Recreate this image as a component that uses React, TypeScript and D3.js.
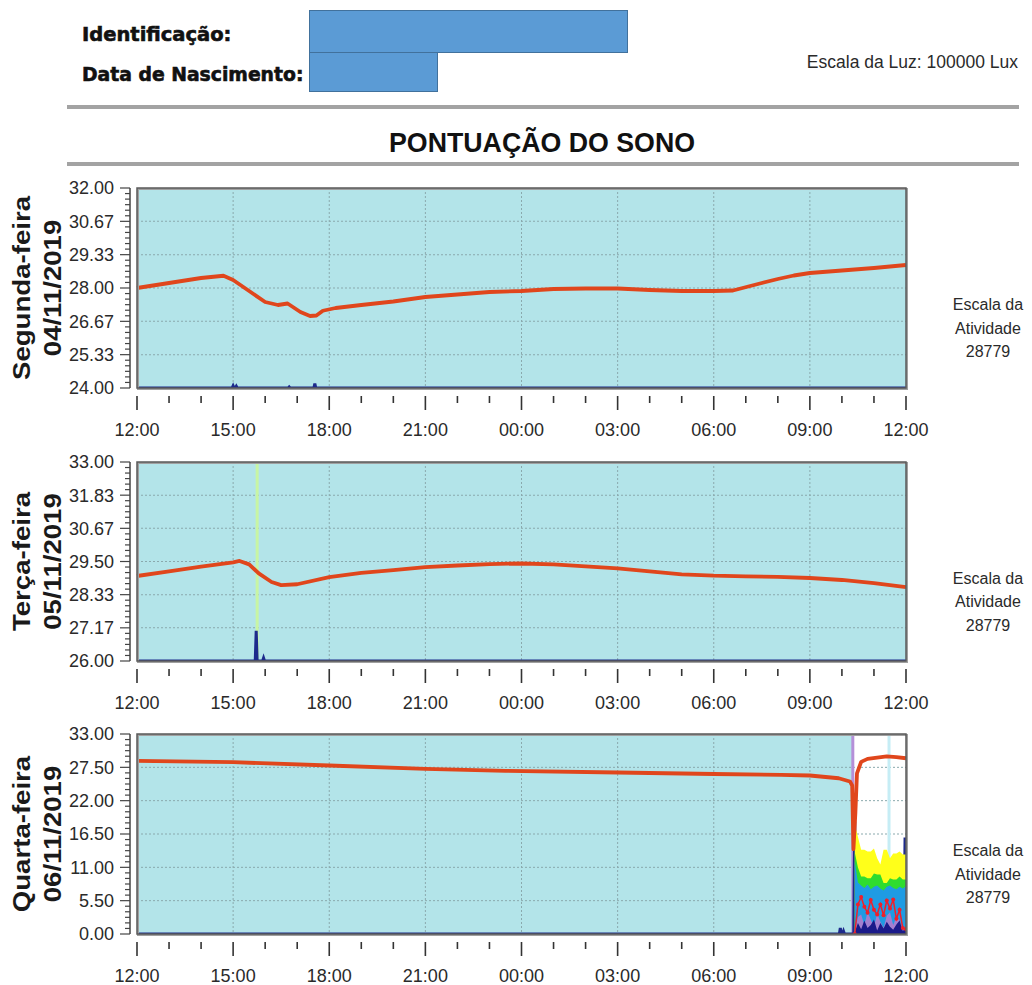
import React from "react";
import * as d3 from "d3";

// ---------- shared axis data ----------
const X_MAJOR_HOURS = [0, 3, 6, 9, 12, 15, 18, 21, 24];
const X_TICK_LABELS = ["12:00", "15:00", "18:00", "21:00", "00:00", "03:00", "06:00", "09:00", "12:00"];
const ACTIVITY_SCALE = 28779;
const LIGHT_SCALE = 100000;

// ---------- Day 1 ----------
const day1Label = ["Segunda-feira", "04/11/2019"];
const day1YDomain = [24, 32];
const day1YTicks = ["24.00", "25.33", "26.67", "28.00", "29.33", "30.67", "32.00"];
const day1Temp: [number, number][] = [
  [0, 28.0], [1, 28.2], [2, 28.4], [2.7, 28.49], [3, 28.32], [3.5, 27.88], [4, 27.44],
  [4.4, 27.32], [4.7, 27.38], [5.1, 27.04], [5.4, 26.88], [5.6, 26.9], [5.8, 27.09],
  [6.2, 27.2], [7, 27.32], [8, 27.46], [9, 27.64], [10, 27.74], [11, 27.84], [12, 27.88],
  [13, 27.96], [14, 27.98], [15, 27.98], [16, 27.92], [17, 27.88], [18, 27.88], [18.6, 27.9],
  [19.5, 28.2], [20, 28.36], [20.5, 28.5], [21, 28.6], [22, 28.7], [23, 28.8], [24, 28.92],
];
const day1Activity: [number, number][] = [[3.0, 300], [3.1, 250], [4.75, 150], [5.55, 650]];

// ---------- Day 2 ----------
const day2Label = ["Terça-feira", "05/11/2019"];
const day2YDomain = [26, 33];
const day2YTicks = ["26.00", "27.17", "28.33", "29.50", "30.67", "31.83", "33.00"];
const day2Temp: [number, number][] = [
  [0, 28.99], [1, 29.15], [2, 29.32], [3, 29.47], [3.2, 29.52], [3.5, 29.4], [3.8, 29.08],
  [4.2, 28.78], [4.5, 28.67], [5, 28.7], [6, 28.95], [7, 29.1], [8, 29.2], [9, 29.3],
  [10, 29.36], [11, 29.41], [12, 29.43], [13, 29.4], [14, 29.33], [15, 29.26], [16, 29.15],
  [17, 29.05], [18, 29.0], [19, 28.98], [20, 28.96], [21, 28.92], [22, 28.85], [23, 28.74], [24, 28.6],
];
const day2Activity: [number, number][] = [[3.72, 4350], [3.95, 430]];
const day2Markers = [{ hour: 3.75, color: "#c8f5a4" }];

// ---------- Day 3 ----------
const day3Label = ["Quarta-feira", "06/11/2019"];
const day3YDomain = [0, 33];
const day3YTicks = ["0.00", "5.50", "11.00", "16.50", "22.00", "27.50", "33.00"];
const day3Temp: [number, number][] = [
  [0, 28.57], [3, 28.35], [6, 27.8], [9, 27.25], [11.5, 26.93], [15, 26.65], [18, 26.4],
  [20.1, 26.27], [21, 26.15], [21.9, 25.7], [22.25, 25.17], [22.32, 24.5], [22.36, 14.0],
  [22.42, 20.0], [22.47, 26.5], [22.6, 28.4], [22.8, 28.9], [23.1, 29.1], [23.4, 29.3],
  [23.7, 29.2], [24, 29.0],
];
const day3Activity: [number, number][] = [[21.95, 850], [22.05, 400], [22.4, 16200], [23.97, 13900]];
const day3Markers = [{ hour: 22.34, color: "#b58fd8" }, { hour: 23.47, color: "#c6edf5" }];
const day3OffWrist = [22.34, 24];

// light sensor channels (lux) during the off-wrist period of day 3
const lightHours = [22.4, 22.5, 22.6, 22.7, 22.8, 22.9, 23.0, 23.1, 23.2, 23.3, 23.4, 23.5, 23.6, 23.7, 23.8, 23.9, 24.0];
const lightYellow = [55150, 48500, 42100, 42100, 41200, 41200, 42700, 37900, 34800, 42100, 42100, 37900, 40300, 40300, 41200, 39700, 39700];
const lightGreen = [40900, 33300, 28800, 28800, 27900, 27900, 30300, 29700, 29700, 25500, 25500, 27900, 27300, 27300, 28800, 27300, 27300];
const lightBlue = [36400, 25800, 24200, 23000, 24800, 22400, 23600, 24200, 22700, 21800, 23600, 24200, 23000, 22400, 23600, 22700, 23900];
const lightRed = [0, 14800, 18500, 13600, 10600, 17000, 12100, 9700, 14800, 9400, 16700, 12700, 17300, 7600, 12100, 3000, 2400];
const lightPurple = [1500, 8500, 9700, 4500, 10900, 7300, 3600, 10300, 6100, 3000, 9100, 10900, 4500, 8500, 6700, 2400, 3000];
const lightNavy = [900, 5500, 2400, 6700, 3000, 4500, 7300, 1800, 5500, 2700, 6100, 3600, 2100, 4800, 6700, 1500, 3000];

// ---------- style constants ----------
const PLOT_LEFT = 137;
const PLOT_RIGHT = 906;
const BG = "#b3e4e9";
const ORANGE = "#e0461c";
const NAVY = "#1d2a8c";
const FONT = "'Liberation Sans', Arial, sans-serif";

type PanelProps = {
  top: number;
  bottom: number;
  label: string[];
  domain: number[];
  yTicks: string[];
  temp: [number, number][];
  activity: [number, number][];
  markers?: { hour: number; color: string }[];
  offWrist?: number[];
  withLight?: boolean;
};

function Panel({ top, bottom, label, domain, yTicks, temp, activity, markers = [], offWrist, withLight }: PanelProps) {
  const x = d3.scaleLinear().domain([0, 24]).range([PLOT_LEFT, PLOT_RIGHT]);
  const y = d3.scaleLinear().domain(domain).range([bottom, top]);
  const ya = d3.scaleLinear().domain([0, ACTIVITY_SCALE]).range([bottom, top]);
  const yl = d3.scaleLinear().domain([0, LIGHT_SCALE]).range([bottom, top]);
  const cy = (top + bottom) / 2;

  const tempLine = d3.line<[number, number]>().x((d) => x(d[0])).y((d) => y(d[1]))(temp) || "";

  const actPts: [number, number][] = [[0, 0]];
  activity.forEach(([h, v]) => {
    actPts.push([h - 0.03, 0], [h, v], [h + 0.03, 0]);
  });
  actPts.push([24, 0]);
  const actLine = d3.line<[number, number]>().x((d) => x(d[0])).y((d) => ya(d[1]))(actPts) || "";

  const area = (vals: number[]) =>
    d3.area<number>().x((_, i) => x(lightHours[i])).y0(bottom).y1((d) => yl(d))(vals) || "";
  const redLine = d3.line<number>().x((_, i) => x(lightHours[i])).y((d) => yl(d))(lightRed) || "";

  const minorY = d3.range(0, 37).map((i) => top + (i * (bottom - top)) / 36);
  const minorX = d3.range(0, 25);
  const axTop = bottom + 8;

  return (
    <g>
      {/* plot background */}
      <rect x={PLOT_LEFT} y={top} width={PLOT_RIGHT - PLOT_LEFT} height={bottom - top} fill={BG} />
      {offWrist && (
        <rect x={x(offWrist[0])} y={top} width={x(offWrist[1]) - x(offWrist[0])} height={bottom - top} fill="#ffffff" />
      )}
      {/* grid */}
      {yTicks.slice(1, -1).map((t) => (
        <line key={"gy" + t} x1={PLOT_LEFT} x2={PLOT_RIGHT} y1={y(+t)} y2={y(+t)} stroke="#8aa9ad" strokeWidth={1} strokeDasharray="2,2" />
      ))}
      {X_MAJOR_HOURS.slice(1, -1).map((h) => (
        <line key={"gx" + h} x1={x(h)} x2={x(h)} y1={top} y2={bottom} stroke="#8aa9ad" strokeWidth={1} strokeDasharray="2,2" />
      ))}
      {/* event markers */}
      {markers.map((m, i) => (
        <line key={"m" + i} x1={x(m.hour)} x2={x(m.hour)} y1={top} y2={bottom} stroke={m.color} strokeWidth={3} />
      ))}
      {/* activity */}
      <path d={actLine} fill="none" stroke={NAVY} strokeWidth={3} />
      {/* light channels */}
      {withLight && (
        <g>
          <path d={area(lightYellow)} fill="#ffff1a" />
          <path d={area(lightGreen)} fill="#2fdc2f" />
          <path d={area(lightBlue)} fill="#1f9be3" />
          <path d={area(lightPurple)} fill="#a27fd0" />
          <path d={area(lightNavy)} fill="#1a1a8a" />
          <path d={redLine} fill="none" stroke="#f0202a" strokeWidth={1.5} />
          {lightRed.map((v, i) => (
            <circle key={"r" + i} cx={x(lightHours[i])} cy={yl(v)} r={2} fill="#f0202a" />
          ))}
        </g>
      )}
      {/* temperature */}
      <path d={tempLine} fill="none" stroke={ORANGE} strokeWidth={3.8} strokeLinejoin="round" />
      {/* frame */}
      <rect x={PLOT_LEFT + 1} y={top + 1} width={PLOT_RIGHT - PLOT_LEFT} height={bottom - top} fill="none" stroke="#a0a0a0" strokeWidth={2} />
      <rect x={PLOT_LEFT} y={top} width={PLOT_RIGHT - PLOT_LEFT} height={bottom - top} fill="none" stroke="#5a5a5a" strokeWidth={1.5} />

      {/* y axis */}
      <line x1={130} x2={130} y1={top} y2={bottom} stroke="#444" strokeWidth={1.5} />
      {minorY.map((yy, i) => (
        <line key={"my" + i} x1={i % 6 === 0 ? 120 : 125} x2={130} y1={yy} y2={yy} stroke="#444" strokeWidth={1.2} />
      ))}
      {yTicks.map((t) => (
        <text key={"yt" + t} x={114} y={y(+t)} dy="0.36em" textAnchor="end" fontSize={18} fontFamily={FONT} fill="#2a2a2a">
          {t}
        </text>
      ))}

      {/* x axis */}
      {minorX.map((h) => (
        <line key={"mx" + h} x1={x(h)} x2={x(h)} y1={axTop} y2={axTop + (h % 3 === 0 ? 14 : 7)} stroke="#333" strokeWidth={1.6} />
      ))}
      {X_MAJOR_HOURS.map((h, i) => (
        <text key={"xt" + i} x={x(h)} y={bottom + 48} textAnchor="middle" fontSize={18} fontFamily={FONT} fill="#2a2a2a">
          {X_TICK_LABELS[i]}
        </text>
      ))}

      {/* rotated day label */}
      <text transform={`translate(30, ${cy}) rotate(-90) scale(1.15,1)`} textAnchor="middle" fontSize={24} fontWeight="bold" fontFamily={FONT} fill="#1a1a1a">
        {label[0]}
      </text>
      <text transform={`translate(61, ${cy}) rotate(-90) scale(1.15,1)`} textAnchor="middle" fontSize={24} fontWeight="bold" fontFamily={FONT} fill="#1a1a1a">
        {label[1]}
      </text>

      {/* activity scale label */}
      {["Escala da", "Atividade", String(ACTIVITY_SCALE)].map((s, i) => (
        <text key={"es" + i} x={988} y={cy + 22 + i * 23.5} textAnchor="middle" fontSize={16} fontFamily={FONT} fill="#2a2a2a">
          {s}
        </text>
      ))}
    </g>
  );
}

export default function App() {
  return (
    <svg width={1032} height={985} style={{ position: "absolute", left: 0, top: 0, background: "#ffffff" }}>
      <rect x={0} y={0} width={1032} height={985} fill="#ffffff" />
      {/* header */}
      <text x={82} y={41} fontSize={19.5} fontWeight="bold" fontFamily="'DejaVu Sans', sans-serif" fill="#111" stroke="#111" strokeWidth={0.6}>
        Identificação:
      </text>
      <text x={82} y={81} fontSize={18.8} fontWeight="bold" fontFamily="'DejaVu Sans', sans-serif" fill="#111" stroke="#111" strokeWidth={0.6}>
        Data de Nascimento:
      </text>
      <rect x={309.5} y={10.5} width={318} height={42} fill="#5b9bd5" stroke="#41719c" strokeWidth={1} />
      <rect x={309.5} y={52.5} width={128} height={39} fill="#5b9bd5" stroke="#41719c" strokeWidth={1} />
      <text x={1018} y={68} textAnchor="end" fontSize={17.5} fontFamily={FONT} fill="#2a2a2a">
        Escala da Luz: {LIGHT_SCALE} Lux
      </text>
      <line x1={67} x2={1019} y1={107} y2={107} stroke="#a3a3a3" strokeWidth={4} />
      <text x={542} y={152} textAnchor="middle" fontSize={28} fontWeight="bold" fontFamily={FONT} fill="#111" textLength={306} lengthAdjust="spacingAndGlyphs">
        PONTUAÇÃO DO SONO
      </text>
      <line x1={67} x2={1019} y1={164} y2={164} stroke="#a3a3a3" strokeWidth={4} />

      <Panel top={188} bottom={388} label={day1Label} domain={day1YDomain} yTicks={day1YTicks} temp={day1Temp} activity={day1Activity} />
      <Panel top={462} bottom={661} label={day2Label} domain={day2YDomain} yTicks={day2YTicks} temp={day2Temp} activity={day2Activity} markers={day2Markers} />
      <Panel
        top={734}
        bottom={934}
        label={day3Label}
        domain={day3YDomain}
        yTicks={day3YTicks}
        temp={day3Temp}
        activity={day3Activity}
        markers={day3Markers}
        offWrist={day3OffWrist}
        withLight
      />
    </svg>
  );
}
